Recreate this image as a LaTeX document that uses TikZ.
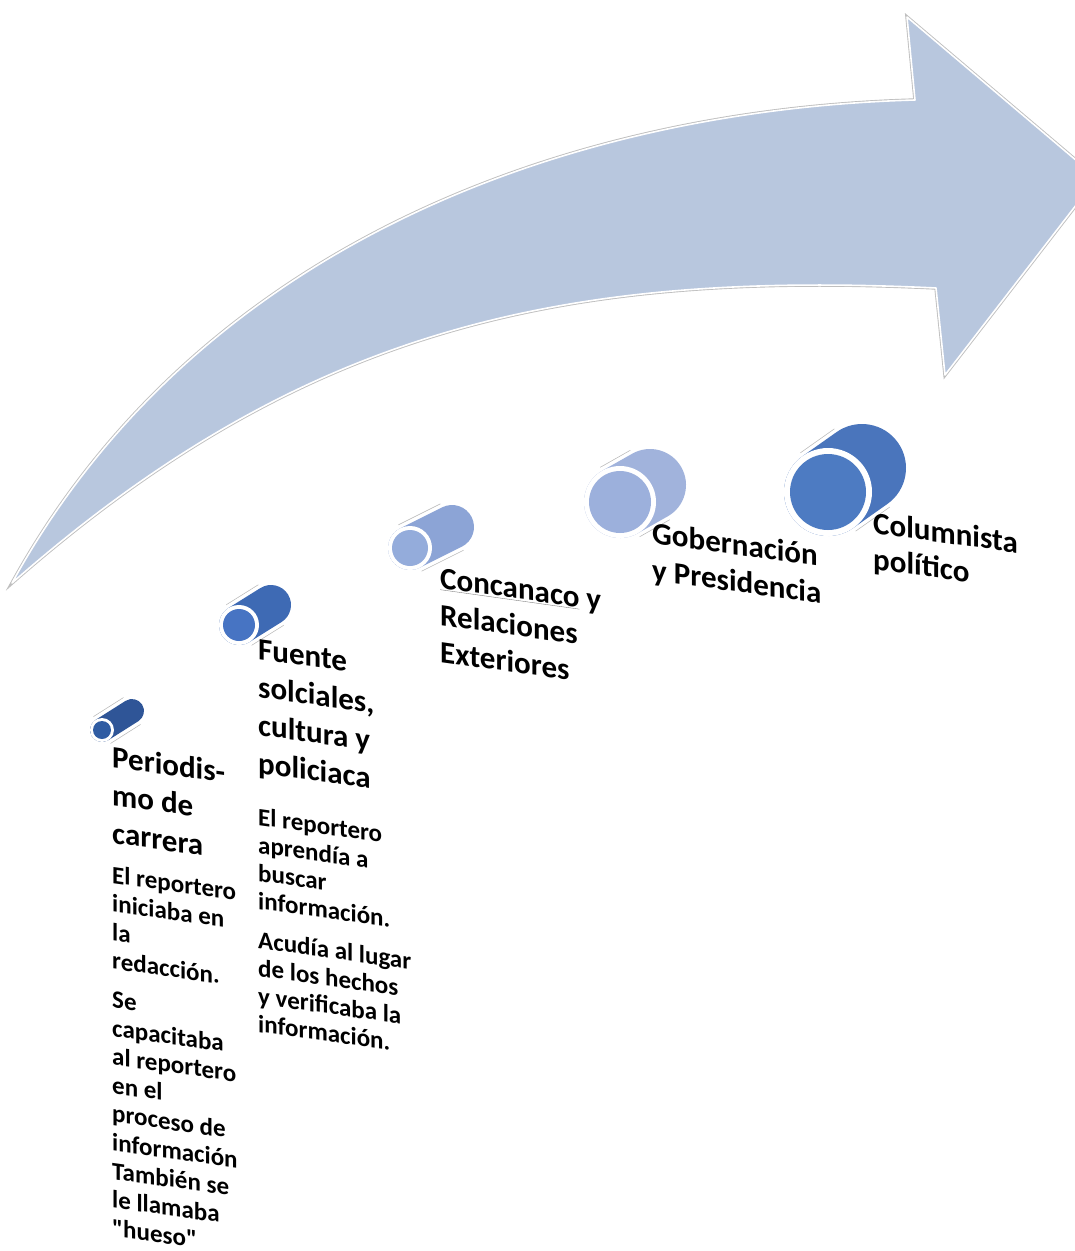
\documentclass[tikz,border=0pt]{standalone}
\usepackage{fontspec}
\newfontfamily\calib{Carlito}
\usetikzlibrary{positioning}

\definecolor{arrowfill}{HTML}{B8C7DE}
\definecolor{cylA}{HTML}{2F5597}
\definecolor{cylAf}{HTML}{2F5CA3}
\definecolor{cylB}{HTML}{3E6AB4}
\definecolor{cylBf}{HTML}{4774C3}
\definecolor{cylC}{HTML}{8CA4D6}
\definecolor{cylCf}{HTML}{94ACDB}
\definecolor{cylD}{HTML}{A1B3DC}
\definecolor{cylDf}{HTML}{9CB0DC}
\definecolor{cylE}{HTML}{4A75BC}
\definecolor{cylEf}{HTML}{4D7BC2}

\begin{document}
\begin{tikzpicture}[
  x=1pt, y=-1pt,
  stage/.style={anchor=base west, inner sep=0pt, text width=200pt, align=flush left,
                yslant=-0.14, font=\calib\fontsize{31}{38}\selectfont\bfseries},
  detail/.style={stage, font=\calib\fontsize{25}{29}\selectfont\bfseries},
  rim/.style={line cap=round, line join=round},
]
  \useasboundingbox (0,0) rectangle (1075,1251);
  \clip (0,0) rectangle (1075,1251);

  % big curved arrow
  \coordinate (tail) at (12,583);
  \draw[rim, fill=arrowfill, draw=white, line width=1.6pt,
        preaction={draw=gray!50, line width=3.4pt}]
    (tail) .. controls (195,250) and (560,110) .. (915,100)
    -- (907,17) -- (1097,178) -- (945,375) -- (936,288)
    .. controls (560,270) and (300,330) .. (tail) -- cycle;

  % the five rolls
  \foreach \fx/\fy/\bx/\by/\r/\w/\body/\face [count=\i] in {
      102/730/132/711/9/3/cylA/cylAf,
      239/625/271/605/16/4/cylB/cylBf,
      410/548/452/527/18/4/cylC/cylCf,
      620/502/650/485/31/5/cylD/cylDf,
      828/492/862/468/38/6/cylE/cylEf}
  {
    \coordinate (front\i) at (\fx,\fy);
    \coordinate (back\i) at (\bx,\by);
    \draw[rim, white, line width={2*(\r+\w)*1pt+7pt},
          preaction={draw=gray!55, line width={2*(\r+\w)*1pt+8.4pt}}]
      (front\i) -- (back\i);
    \draw[rim, \body, line width={2*(\r+\w)*1pt}] (front\i) -- (back\i);
    \fill[white] (front\i) circle[radius={(\r+\w)*1pt}];
    \fill[\face] (front\i) circle[radius={\r*1pt}];
  }

  \node[stage] (periodismo) at (112,767) {Periodis-\\ mo de\\ carrera};
  \node[detail, font=\calib\fontsize{25}{28.6}\selectfont\bfseries] (periodismo-txt) at (112,883)
    {El reportero\\ iniciaba en\\ la\\ redacción.\\[10pt]
     Se\\ capacitaba\\ al reportero\\ en el\\ proceso de\\ información\\
     También se\\ le llamaba\\ "hueso"};

  \node[stage] (fuente) at (258,659) {Fuente\\ solciales,\\ cultura y\\ policiaca};
  \node[detail, font=\calib\fontsize{25}{28}\selectfont\bfseries] (fuente-txt) at (258,825)
    {El reportero\\ aprendía a\\ buscar\\ información.\\[11pt]
     Acudía al lugar\\ de los hechos\\ y verificaba la\\ información.};

  \node[stage, font=\calib\fontsize{31}{37}\selectfont\bfseries] (concanaco) at (440,588)
    {{\color{gray}\underline{\color{black}Concanaco}} y\\ Relaciones\\ Exteriores};
  \node[stage, font=\calib\fontsize{31}{37}\selectfont\bfseries] (gobernacion) at (652,543)
    {Gobernación\\ y Presidencia};
  \node[stage, font=\calib\fontsize{31}{36}\selectfont\bfseries] (columnista) at (873,533)
    {Columnista\\ político};
\end{tikzpicture}
\end{document}
